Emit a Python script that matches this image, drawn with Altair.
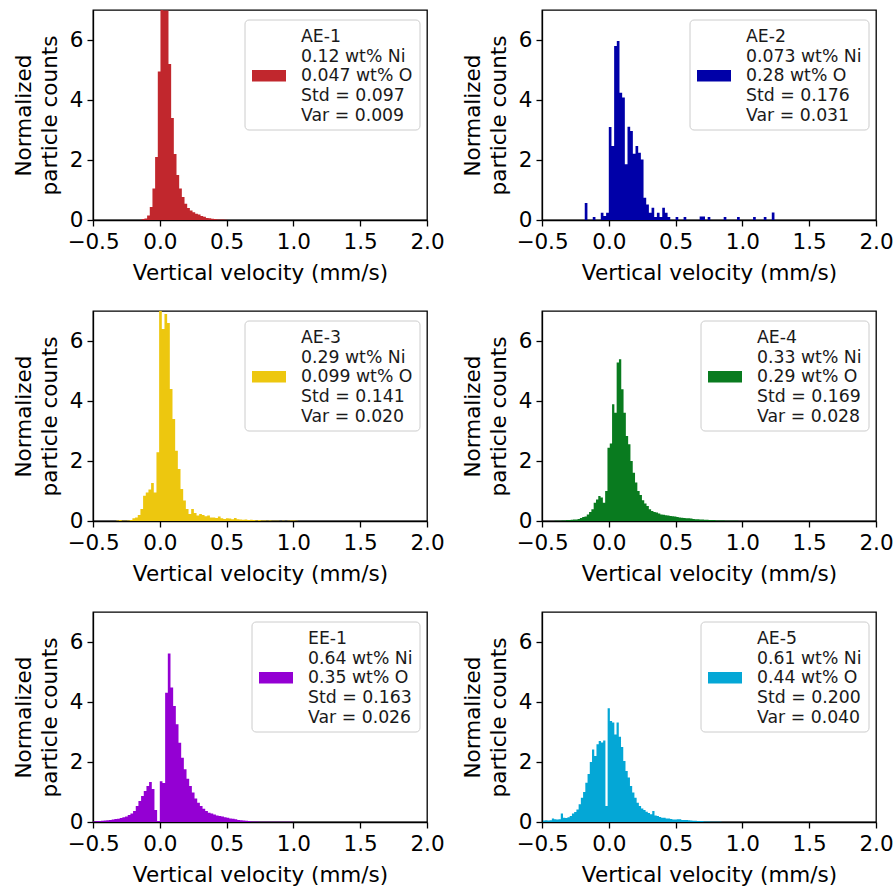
import altair as alt
import pandas as pd

# ---------------- data ----------------
names = ["AE-1", "AE-2", "AE-3", "AE-4", "EE-1", "AE-5"]
ni_wt = ["0.12", "0.073", "0.29", "0.33", "0.64", "0.61"]
o_wt = ["0.047", "0.28", "0.099", "0.29", "0.35", "0.44"]
std_vals = ["0.097", "0.176", "0.141", "0.169", "0.163", "0.200"]
var_vals = ["0.009", "0.031", "0.020", "0.028", "0.026", "0.040"]
colors = ["#C1272D", "#0000A8", "#EDC70F", "#097B1F", "#9400D3", "#04A7D6"]

# histogram bins: left edge of first bin, bin width, densities
bin_start = [-0.135, -0.18, -0.325, -0.4056, -0.50, -0.493]
bin_width = [0.02, 0.02, 0.02, 0.0172, 0.02, 0.0167]

h_ae1 = [0.03, 0.05, 0.15, 0.43, 1.05, 2.1, 4.95, 7.3, 6.98, 6.98, 5.2, 3.4, 2.2, 1.5,
         1.05, 0.77, 0.54, 0.4, 0.32, 0.26, 0.21, 0.18, 0.13, 0.11, 0.07, 0.06, 0.04,
         0.03, 0.02, 0.02, 0.015, 0.01]
h_ae2 = [0.57, 0, 0, 0.1, 0, 0, 0.24, 0.13, 0.24, 3.1, 2.47, 5.8, 5.97, 4.24, 4.08, 1.86,
         3.11, 2.97, 2.21, 2.47, 2.24, 2.02, 0.74, 0.52, 0.24, 0.41, 0.1, 0.24, 0.1, 0.41,
         0.24, 0.1, 0, 0, 0.1, 0, 0, 0.1, 0, 0, 0, 0, 0, 0.12, 0.12, 0, 0.1, 0, 0, 0, 0,
         0, 0.1, 0, 0, 0, 0, 0.1, 0, 0, 0, 0, 0, 0.1, 0, 0, 0, 0.1, 0, 0, 0.25]
h_ae3 = [0.02, 0.03, 0.01, 0.01, 0.02, 0.03, 0.09, 0.12, 0.2, 0.4, 0.84, 0.95, 1.05, 1.27,
         0.95, 2.29, 7.3, 6.4, 6.9, 6.6, 4.4, 3.4, 2.34, 1.73, 1.07, 0.68, 0.4, 0.23, 0.4,
         0.27, 0.18, 0.23, 0.2, 0.16, 0.18, 0.12, 0.12, 0.1, 0.15, 0.09, 0.07, 0.09, 0.08,
         0.06, 0.1, 0.06, 0.05, 0.04, 0.05, 0.03, 0.04, 0.03, 0.02, 0.03, 0.02, 0.02, 0.01,
         0.02, 0.01, 0.01, 0.01, 0, 0.01, 0, 0.01, 0.02, 0.02, 0.01]
h_ae4 = [0.01, 0.01, 0.01, 0.02, 0.02, 0.03, 0.03, 0.04, 0.05, 0.05, 0.07, 0.1, 0.13, 0.15,
         0.22, 0.3, 0.39, 0.61, 0.72, 0.83, 0.78, 0.61, 1.0, 2.44, 2.58, 3.89, 3.61, 5.28,
         5.39, 4.39, 3.61, 2.83, 2.56, 2.0, 1.61, 1.28, 1.0, 0.87, 0.69, 0.58, 0.5, 0.39,
         0.33, 0.3, 0.28, 0.25, 0.22, 0.21, 0.19, 0.18, 0.17, 0.16, 0.15, 0.13, 0.12, 0.11,
         0.1, 0.09, 0.09, 0.08, 0.07, 0.06, 0.06, 0.05, 0.05, 0.04, 0.04, 0.03, 0.03, 0.03,
         0.02, 0.02, 0.02, 0.02, 0.01, 0.01, 0.01, 0.01, 0.01, 0.01]
h_ee1 = [0.02, 0.03, 0.03, 0.04, 0.05, 0.06, 0.07, 0.08, 0.1, 0.11, 0.13, 0.16, 0.18, 0.23,
         0.28, 0.37, 0.53, 0.7, 0.87, 1.03, 1.2, 1.33, 1.1, 0.4, 0.03, 1.36, 1.3, 4.31, 5.62,
         4.48, 3.87, 3.26, 2.64, 2.14, 1.76, 1.44, 1.2, 0.98, 0.78, 0.64, 0.53, 0.44, 0.37,
         0.31, 0.28, 0.25, 0.22, 0.2, 0.18, 0.16, 0.14, 0.12, 0.11, 0.09, 0.07, 0.06, 0.05,
         0.04, 0.03, 0.02, 0.02, 0.015, 0.01, 0.01, 0.01, 0.01, 0.01, 0.01, 0.005, 0.005,
         0.005, 0.005, 0.005, 0.005, 0.005]
h_ae5 = [0.05, 0.06, 0.05, 0.06, 0.12, 0.09, 0.08, 0.09, 0.28, 0.14, 0.13, 0.16, 0.2, 0.28,
         0.33, 0.42, 0.59, 0.81, 1.0, 1.31, 1.6, 2.0, 2.42, 2.2, 2.59, 2.7, 2.65, 2.72, 0.53,
         3.79, 3.37, 3.32, 2.92, 3.32, 2.84, 2.5, 2.03, 1.7, 1.48, 1.2, 0.98, 0.81, 0.64,
         0.53, 0.45, 0.4, 0.34, 0.3, 0.26, 0.37, 0.22, 0.2, 0.17, 0.14, 0.14, 0.12, 0.12,
         0.1, 0.08, 0.08, 0.09, 0.09, 0.07, 0.07, 0.07, 0.06, 0.05, 0.04, 0.04, 0.03, 0.03,
         0.03, 0.02, 0.02, 0.02, 0.01, 0.01, 0.01, 0.01, 0.01]
heights = [h_ae1, h_ae2, h_ae3, h_ae4, h_ee1, h_ae5]

x_ticks = [-0.5, 0.0, 0.5, 1.0, 1.5, 2.0]
y_ticks = [0, 2, 4, 6]

# ---------------- layout ----------------
W, H = 334, 210
FONT = "DejaVu Sans"
legend_text_left = [208, 204, 208, 215, 215, 215]


def panel(i):
    w = bin_width[i]
    hs = heights[i]
    # step outline of the histogram: each bin's left edge with its height,
    # closed by the right edge of the last bin at zero
    xs_pts = [bin_start[i] + k * w for k in range(len(hs))] + [bin_start[i] + len(hs) * w]
    hs_pts = list(hs) + [0.0]
    df = pd.DataFrame({"x": xs_pts, "h": hs_pts})
    c = colors[i]
    xs = alt.Scale(domain=[-0.5, 2.0], nice=False, zero=False)
    ys = alt.Scale(domain=[0, 7], nice=False, zero=True)
    bars = alt.Chart(df).mark_area(
        color=c, interpolate="step-after", clip=True, opacity=1, line=False
    ).encode(
        x=alt.X("x:Q", scale=xs,
                axis=alt.Axis(values=x_ticks, format=".1f",
                              title="Vertical velocity (mm/s)")),
        y=alt.Y("h:Q", scale=ys,
                axis=alt.Axis(values=y_ticks, format="d",
                              title=["Normalized", "particle counts"])),
    )
    tl = legend_text_left[i]
    fl = tl - 56
    leg_df = pd.DataFrame({"t": ["\n".join([
        names[i],
        f"{ni_wt[i]} wt% Ni",
        f"{o_wt[i]} wt% O",
        f"Std = {std_vals[i]}",
        f"Var = {var_vals[i]}",
    ])]})
    frame = alt.Chart(leg_df).mark_rect(
        fill="white", fillOpacity=0.85, stroke="#CCCCCC", strokeWidth=1, cornerRadius=4
    ).encode(x=alt.value(fl), x2=alt.value(327), y=alt.value(10), y2=alt.value(120))
    patch = alt.Chart(leg_df).mark_rect(color=c).encode(
        x=alt.value(fl + 7), x2=alt.value(fl + 41), y=alt.value(60), y2=alt.value(71.5)
    )
    text = alt.Chart(leg_df).mark_text(
        align="left", baseline="alphabetic", font=FONT, fontSize=17.3,
        lineBreak="\n", lineHeight=19.7, color="#1a1a1a"
    ).encode(x=alt.value(tl), y=alt.value(32), text="t:N")
    return alt.layer(bars, frame, patch, text).properties(width=W, height=H)


chart = alt.concat(
    *[panel(i) for i in range(6)],
    columns=2,
    spacing={"row": 91, "column": 115},
    bounds="flush",
).properties(
    padding={"left": 12, "top": 9, "right": 0, "bottom": 0}
).configure_axis(
    labelFont=FONT, labelFontSize=21.5, labelColor="black",
    titleFont=FONT, titleFontSize=21.5, titleFontWeight="normal", titleColor="black",
    domainColor="black", domainWidth=1.3, tickColor="black", tickWidth=1.3, tickSize=6,
    grid=False, labelPadding=4, labelFlush=False, labelOverlap=False,
).configure_axisY(
    titleLineHeight=26, titlePadding=8,
).configure_axisX(
    titlePadding=10, labelPadding=5,
).configure_view(
    stroke="black", strokeWidth=1.3
)

chart.save("out.html", embed_options={"renderer": "svg", "actions": False})
